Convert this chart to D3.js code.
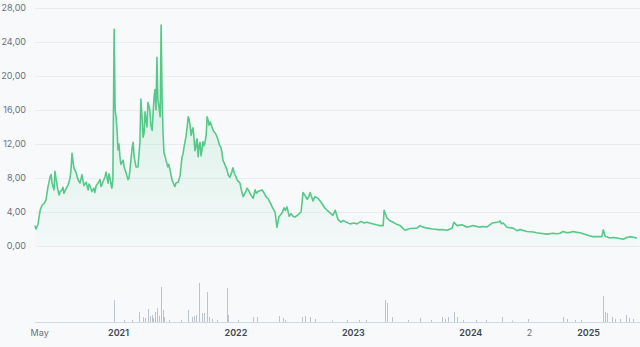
<!DOCTYPE html>
<html><head><meta charset="utf-8">
<script src="https://cdn.jsdelivr.net/npm/d3@7"></script>
<style>
html,body{margin:0;padding:0;background:#f7f9fb;}
svg{display:block;}
</style></head>
<body>
<svg id="c" width="640" height="347"></svg>
<script>
const priceDates = ["2020-04-18","2020-04-21","2020-04-27","2020-05-04","2020-05-10","2020-05-16","2020-05-22","2020-05-28","2020-06-04","2020-06-10","2020-06-16","2020-06-19","2020-06-22","2020-06-28","2020-07-05","2020-07-11","2020-07-17","2020-07-23","2020-07-30","2020-08-05","2020-08-11","2020-08-17","2020-08-23","2020-08-30","2020-09-05","2020-09-11","2020-09-17","2020-09-24","2020-09-30","2020-10-06","2020-10-12","2020-10-18","2020-10-25","2020-10-31","2020-11-06","2020-11-12","2020-11-18","2020-11-25","2020-12-01","2020-12-07","2020-12-13","2020-12-16","2020-12-20","2020-12-23","2020-12-26","2020-12-29","2021-01-01","2021-01-07","2021-01-13","2021-01-20","2021-01-26","2021-02-01","2021-02-07","2021-02-14","2021-02-17","2021-02-20","2021-02-26","2021-03-04","2021-03-10","2021-03-13","2021-03-17","2021-03-23","2021-03-29","2021-04-04","2021-04-10","2021-04-17","2021-04-23","2021-04-26","2021-04-29","2021-05-02","2021-05-05","2021-05-12","2021-05-15","2021-05-18","2021-05-21","2021-05-24","2021-05-30","2021-06-05","2021-06-12","2021-06-18","2021-06-24","2021-06-30","2021-07-07","2021-07-13","2021-07-19","2021-07-25","2021-07-31","2021-08-07","2021-08-13","2021-08-19","2021-08-25","2021-08-31","2021-09-04","2021-09-07","2021-09-13","2021-09-19","2021-09-25","2021-09-28","2021-10-05","2021-10-11","2021-10-20","2021-10-30","2021-11-08","2021-11-17","2021-11-23","2021-12-06","2021-12-15","2021-12-24","2022-01-06","2022-01-15","2022-01-25","2022-02-06","2022-02-15","2022-02-25","2022-03-03","2022-03-12","2022-03-25","2022-04-03","2022-04-12","2022-04-25","2022-05-04","2022-05-10","2022-05-16","2022-05-26","2022-06-01","2022-06-10","2022-06-17","2022-06-29","2022-07-15","2022-07-24","2022-07-30","2022-08-12","2022-08-21","2022-08-30","2022-09-15","2022-09-27","2022-10-13","2022-10-22","2022-10-31","2022-11-07","2022-11-16","2022-12-01","2022-12-23","2023-01-14","2023-01-26","2023-02-14","2023-03-05","2023-03-26","2023-04-05","2023-04-08","2023-04-17","2023-05-06","2023-05-28","2023-06-12","2023-06-28","2023-07-19","2023-07-29","2023-08-20","2023-09-07","2023-09-29","2023-10-21","2023-11-05","2023-11-11","2023-11-21","2023-12-06","2023-12-22","2024-01-10","2024-01-31","2024-02-22","2024-03-09","2024-03-24","2024-04-02","2024-04-12","2024-04-24","2024-05-13","2024-06-04","2024-06-25","2024-07-14","2024-08-05","2024-08-27","2024-09-14","2024-10-06","2024-10-15","2024-10-28","2024-11-15","2024-12-07","2024-12-29","2025-01-16","2025-02-07","2025-02-13","2025-02-17","2025-02-23","2025-03-10","2025-04-01","2025-04-20","2025-05-11","2025-06-02",
  "2020-06-01","2020-06-07","2020-07-02","2020-07-14","2020-08-08","2020-08-14","2020-09-08","2020-10-03","2020-10-21","2020-11-09","2020-11-22","2020-12-04","2020-12-10","2021-01-04","2021-01-10","2021-01-17","2021-02-04","2021-03-20","2021-03-26","2021-04-01","2021-04-07","2021-04-13","2021-04-20","2021-05-08","2021-05-27","2021-06-08","2021-06-15","2021-06-27","2021-07-10","2021-07-22","2021-08-04","2021-08-10","2021-08-16","2021-08-22","2021-08-28","2021-09-01","2021-09-10","2021-09-16","2021-09-22","2021-10-02","2021-10-08","2021-10-15","2021-10-25","2021-11-03","2021-11-12","2021-11-20","2021-11-29","2021-12-10","2021-12-20","2021-12-29","2022-01-02","2022-01-10","2022-01-20","2022-02-01","2022-02-10","2022-02-20","2022-03-07","2022-03-18","2022-03-30","2022-04-08","2022-04-19","2022-06-05","2022-06-23","2022-07-05","2022-08-06","2022-08-17","2022-09-05","2022-10-05","2022-11-25","2023-01-05","2023-02-05","2023-03-15","2023-04-25","2023-05-15","2023-06-05","2023-08-05","2023-10-05","2024-02-05","2024-03-30","2024-04-07","2024-05-25","2024-07-25","2024-09-25","2024-11-05","2024-11-28","2025-01-05","2025-03-20","2025-05-01"];
const priceValues = [2.4,2.0,2.5,4.2,4.8,5.0,5.4,6.9,8.1,7.4,6.6,8.8,8.0,6.6,6.4,6.6,6.2,6.7,7.2,8.0,10.9,9.2,8.7,7.8,7.4,8.4,7.1,7.5,6.6,7.1,6.4,6.8,7.1,7.4,7.8,7.2,7.8,8.7,7.4,8.0,6.8,7.8,25.5,16.0,15.2,13.6,11.3,10.5,9.8,9.3,8.6,7.8,8.9,11.6,12.2,10.5,9.3,9.3,12.1,17.3,15.0,13.3,14.8,16.9,16.0,13.6,17.5,18.4,16.0,22.2,17.2,15.2,26.0,17.2,13.3,10.9,10.1,9.3,8.9,7.8,7.2,7.4,7.5,8.3,10.5,11.6,12.8,15.2,14.2,13.6,12.8,11.6,12.6,10.5,12.2,11.3,11.8,12.1,15.2,14.2,14.0,13.3,12.5,11.6,10.1,8.9,8.1,9.2,7.8,7.4,5.8,6.8,6.2,5.6,6.6,6.4,6.6,6.0,5.6,4.6,4.0,2.2,3.4,3.9,4.5,4.6,3.5,3.5,3.7,4.0,6.3,5.5,6.3,5.3,5.6,5.0,4.2,3.9,3.6,4.2,3.1,3.0,2.6,2.6,2.9,2.8,2.6,2.4,2.4,4.2,3.3,2.8,2.4,1.85,2.05,2.1,2.4,2.1,2.0,1.9,1.85,2.1,2.8,2.4,2.5,2.2,2.4,2.2,2.25,2.7,2.8,2.95,2.7,2.2,2.1,1.95,1.7,1.65,1.5,1.4,1.5,1.5,1.7,1.55,1.7,1.55,1.3,1.1,1.1,1.1,1.9,1.15,0.95,0.95,0.8,1.1,0.95,
  7.6,8.4,6.0,6.9,9.0,10.0,7.9,7.3,6.3,7.0,8.2,8.5,7.3,12.0,9.6,10.1,8.0,12.8,15.8,14.0,16.5,14.2,15.6,16.4,10.6,9.6,8.3,7.0,7.9,10.8,14.0,14.9,13.0,13.9,11.2,12.2,11.8,10.6,12.3,13.0,14.8,14.6,13.5,13.0,11.9,11.0,9.6,8.3,8.6,8.5,8.2,7.6,6.5,6.3,6.6,5.9,6.2,6.5,6.3,5.7,5.1,4.2,3.8,3.4,5.9,5.8,5.8,4.5,2.8,2.7,2.7,2.5,3.0,2.6,2.1,2.25,1.95,2.3,2.85,2.6,1.8,1.55,1.45,1.6,1.6,1.2,1.0,1.0];

const volumeDates = ["2020-12-20","2021-02-14","2021-03-07","2021-03-20","2021-04-04","2021-04-10","2021-04-17","2021-04-26","2021-05-02","2021-05-15","2021-05-21","2021-05-24","2021-08-07","2021-08-19","2021-09-10","2021-09-19","2021-09-25","2021-10-05","2021-10-11","2021-12-06","2021-12-09","2022-02-25","2022-03-09","2022-05-16","2022-05-29","2022-07-27","2022-08-06","2022-08-21","2022-10-28","2023-04-11","2023-04-17","2023-05-03","2023-07-29","2023-10-06","2023-10-15","2023-10-24","2023-11-11","2023-11-21","2024-04-08","2024-06-28","2024-10-15","2024-10-28","2025-02-17","2025-02-23","2025-03-01","2025-03-16","2025-04-29","2025-05-08","2025-05-20",
  "2021-01-20","2021-03-25","2021-04-20","2021-05-08","2021-06-10","2021-07-15","2021-08-25","2021-09-01","2021-10-20","2021-11-05","2022-01-10","2022-06-05","2022-09-05","2022-12-15","2023-01-20","2023-02-10","2023-06-20","2023-09-01","2023-12-10","2024-01-20","2024-02-20","2024-05-10","2024-11-20","2024-12-10","2025-03-25","2025-04-10"];
const volumeValues = [22,2,10,5,13,6,7,10,14,35,12,5,12,5,39,9,9,30,5,34,7,5,5,6,4,5,6,5,1.5,22,19,5,4,5,3,5,10,5,5,3,5,3,26,10,9,5,7,4,3,
  2,4,4,6,2,2,6,7,3,2,2,2,3,2,2,2,2,2,2,2,2,1.5,2,2,3,3];

const yTicks = [0,4,8,12,16,20,24,28];
const xTickDates = ["2020-05-01","2021-01-01","2022-01-01","2023-01-01","2024-01-01","2024-07-01","2025-01-01"];
const xTickLabels = ["May","2021","2022","2023","2024","2","2025"];
const xTickMajor = [false,true,true,true,true,false,true];

const parse = d3.timeParse("%Y-%m-%d");
const price = d3.sort(priceDates.map((d,i)=>({date:parse(d), v:priceValues[i]})), d=>d.date);
const vol = volumeDates.map((d,i)=>({date:parse(d), v:volumeValues[i]}));

const svg = d3.select("#c");
const x = d3.scaleTime().domain([parse("2020-04-18"), parse("2025-06-02")]).range([35, 637]);
const y = d3.scaleLinear().domain([0,28]).range([246, 8]);
const yv = d3.scaleLinear().domain([0,40]).range([322, 282]);

const defs = svg.append("defs");
const g = defs.append("linearGradient").attr("id","ag").attr("gradientUnits","userSpaceOnUse")
  .attr("x1",0).attr("y1",y(26)).attr("x2",0).attr("y2",y(0));
g.append("stop").attr("offset","0%").attr("stop-color","#5ccf8f").attr("stop-opacity",0.26);
g.append("stop").attr("offset","100%").attr("stop-color","#5ccf8f").attr("stop-opacity",0.02);

svg.append("g").selectAll("line").data(yTicks).join("line")
  .attr("x1",35).attr("x2",640).attr("y1",d=>y(d)).attr("y2",d=>y(d))
  .attr("stroke","#e9edf2").attr("stroke-width",1).attr("shape-rendering","crispEdges");

const yAxis = d3.axisLeft(y).tickValues(yTicks).tickSize(0).tickPadding(0)
  .tickFormat(d=>d3.format(".2f")(d).replace(".",","));
const ya = svg.append("g").attr("transform","translate(26,0)").call(yAxis);
ya.select(".domain").remove();
ya.selectAll("text").attr("font-family","Inter, 'Noto Sans', sans-serif").attr("font-size",9).attr("fill","#6b7280");

const area = d3.area().x(d=>x(d.date)).y0(y(0)).y1(d=>y(d.v));
svg.append("path").datum(price).attr("d",area).attr("fill","url(#ag)");
const line = d3.line().x(d=>x(d.date)).y(d=>y(d.v));
svg.append("path").datum(price).attr("d",line).attr("fill","none")
  .attr("stroke","#56c98a").attr("stroke-width",1.6).attr("stroke-linejoin","round");

svg.append("line").attr("x1",35).attr("x2",640).attr("y1",yv(0)+0.5).attr("y2",yv(0)+0.5)
  .attr("stroke","#d3d9e0").attr("stroke-width",1);
svg.append("g").selectAll("line").data(vol).join("line")
  .attr("x1",d=>Math.round(x(d.date))+0.5).attr("x2",d=>Math.round(x(d.date))+0.5)
  .attr("y1",yv(0)).attr("y2",d=>yv(d.v))
  .attr("stroke","#bcc3cd").attr("stroke-width",1);

const xAxis = d3.axisBottom(x).tickValues(xTickDates.map(parse)).tickSize(0).tickPadding(0)
  .tickFormat((d,i)=>xTickLabels[i]);
const xa = svg.append("g").attr("transform","translate(0,330)").call(xAxis);
xa.select(".domain").remove();
xa.selectAll("text").attr("font-family","Inter, 'Noto Sans', sans-serif").attr("font-size",9)
  .attr("font-weight",(d,i)=>xTickMajor[i]?600:400)
  .attr("fill",(d,i)=>xTickMajor[i]?"#3f4550":"#6b7280");
</script>
</body></html>
